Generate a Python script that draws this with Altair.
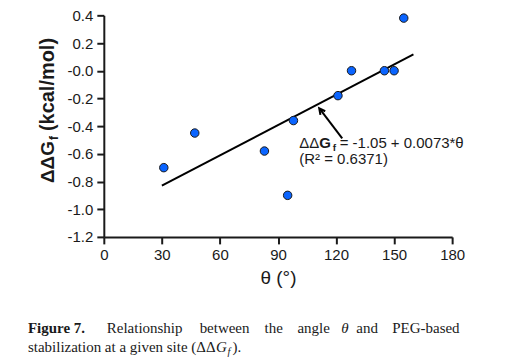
import altair as alt
import pandas as pd

# ---- data ----
theta = [31, 47, 83, 95, 98, 121, 128, 145, 150, 155]
ddg = [-0.70, -0.45, -0.58, -0.90, -0.36, -0.18, -0.00, -0.00, -0.00, 0.38]
fit_theta = [30, 160]
fit_ddg = [-0.83, 0.118]
x_ticks = [0, 30, 60, 90, 120, 150, 180]
y_ticks = [-1.2, -1.0, -0.8, -0.6, -0.4, -0.2, 0.0, 0.2, 0.4]

pts = pd.DataFrame({"theta": theta, "ddg": ddg})
fit = pd.DataFrame({"theta": fit_theta, "ddg": fit_ddg})
one = pd.DataFrame({"k": [0]})
# annotation anchors (data units)
ann = pd.DataFrame({"theta": [101], "ddg": [-0.558]})
arrow_df = pd.DataFrame({"theta": [123.2], "ddg": [-0.488], "theta2": [111.6], "ddg2": [-0.275]})
head_df = pd.DataFrame({"theta": [111.3], "ddg": [-0.271]})

FONT = "Liberation Sans"
SERIF = "Liberation Serif"
INK = "#1a1a1a"

xs = alt.Scale(domain=[0, 180], nice=False, zero=False)
ys = alt.Scale(domain=[-1.2, 0.4], nice=False, zero=False)

x_axis = alt.Axis(values=x_ticks, title="θ (°)", titleFontSize=19, titleFontWeight="normal",
                  titlePadding=6, titleFont=FONT, titleColor=INK,
                  labelFontSize=15, labelFont=FONT, labelColor=INK, labelPadding=4,
                  tickSize=7, tickWidth=2, tickColor=INK, domainWidth=2, domainColor=INK,
                  grid=False, labelFlush=False, labelOverlap=False)
y_axis = alt.Axis(values=y_ticks, title=None,
                  labelExpr="datum.value <= 0 ? '-' + format(abs(datum.value), '.1f') : format(datum.value, '.1f')",
                  labelFontSize=15, labelFont=FONT, labelColor=INK, labelPadding=4,
                  tickSize=7, tickWidth=2, tickColor=INK, domainWidth=2, domainColor=INK,
                  grid=False, labelFlush=False, labelOverlap=False)

X = alt.X("theta:Q", scale=xs, axis=x_axis, title="θ (°)")
Y = alt.Y("ddg:Q", scale=ys, axis=y_axis, title=None)

fit_line = alt.Chart(fit).mark_line(color="black", strokeWidth=2).encode(x=X, y=Y)
points = alt.Chart(pts).mark_point(filled=True, fill="#0a64ff", stroke=INK, strokeWidth=1,
                                   size=72, opacity=1).encode(x=X, y=Y)

layers = [fit_line, points]

def txt(s, x, y, size, weight="normal", font=FONT, style="normal", angle=0, align="left"):
    kw = dict(text=s, fontSize=size, fontWeight=weight, font=font, fontStyle=style,
              align=align, baseline="alphabetic", color=INK)
    if angle:
        kw["angle"] = angle
    return alt.Chart(one).mark_text(**kw).encode(x=alt.value(x), y=alt.value(y))

# y-axis title (rotated) with subscript f
layers += [
    txt("ΔΔG", -50, 168, 19, "bold", angle=270),
    txt("f", -46, 125, 12, "bold", angle=270),
    txt("(kcal/mol)", -50, 116, 20, "bold", angle=270),
]

# annotation
def atxt(s, dx, dy, size, weight="normal"):
    return alt.Chart(ann).mark_text(text=s, fontSize=size, fontWeight=weight, font=FONT,
                                    align="left", baseline="alphabetic", color=INK,
                                    dx=dx, dy=dy).encode(x=X, y=Y)

layers += [
    atxt("ΔΔ", 0, 0, 15),
    atxt("G", 20, 0, 15, "bold"),
    atxt("f", 33.5, 3, 10, "bold"),
    atxt("= -1.05 + 0.0073*θ", 40.5, 0, 15),
    atxt("(R² = 0.6371)", 0, 16, 15),
]

arrow = alt.Chart(arrow_df).mark_rule(color="black", strokeWidth=2).encode(
    x=X, y=Y, x2="theta2:Q", y2="ddg2:Q")
head = alt.Chart(head_df).mark_point(shape="M -0.55 1.1 L 0 0 L 0.55 1.1", filled=False,
                                     stroke="black", strokeWidth=2, size=120, angle=323,
                                     opacity=1).encode(x=X, y=Y)
layers += [arrow, head]

# caption
cap_y1, cap_y2 = 318, 337
cap_words = [("Figure 7.", -76, "bold", "normal"), ("Relationship", 3, "normal", "normal"),
             ("between", 96, "normal", "normal"), ("the", 161, "normal", "normal"),
             ("angle", 194, "normal", "normal"), ("θ", 238, "normal", "italic"),
             ("and", 253, "normal", "normal"), ("PEG-based", 289, "normal", "normal")]
for w, x, wt, st in cap_words:
    layers.append(txt(w, x, cap_y1, 15, wt, SERIF, st))
layers += [
    txt("stabilization at a given site (ΔΔ", -76, cap_y2, 15, "normal", SERIF),
    txt("G", 112.5, cap_y2, 15, "normal", SERIF, "italic"),
    txt("f", 124, cap_y2 + 3, 10.5, "normal", SERIF, "italic"),
    txt(").", 129, cap_y2, 15, "normal", SERIF),
]

chart = alt.layer(*layers).properties(
    width=349, height=222,
    autosize=alt.AutoSizeParams(type="none"),
    padding={"left": 96, "top": 7, "right": 70, "bottom": 122},
).configure_view(stroke=None)

chart.save("out.html", embed_options={"renderer": "svg", "actions": False})
